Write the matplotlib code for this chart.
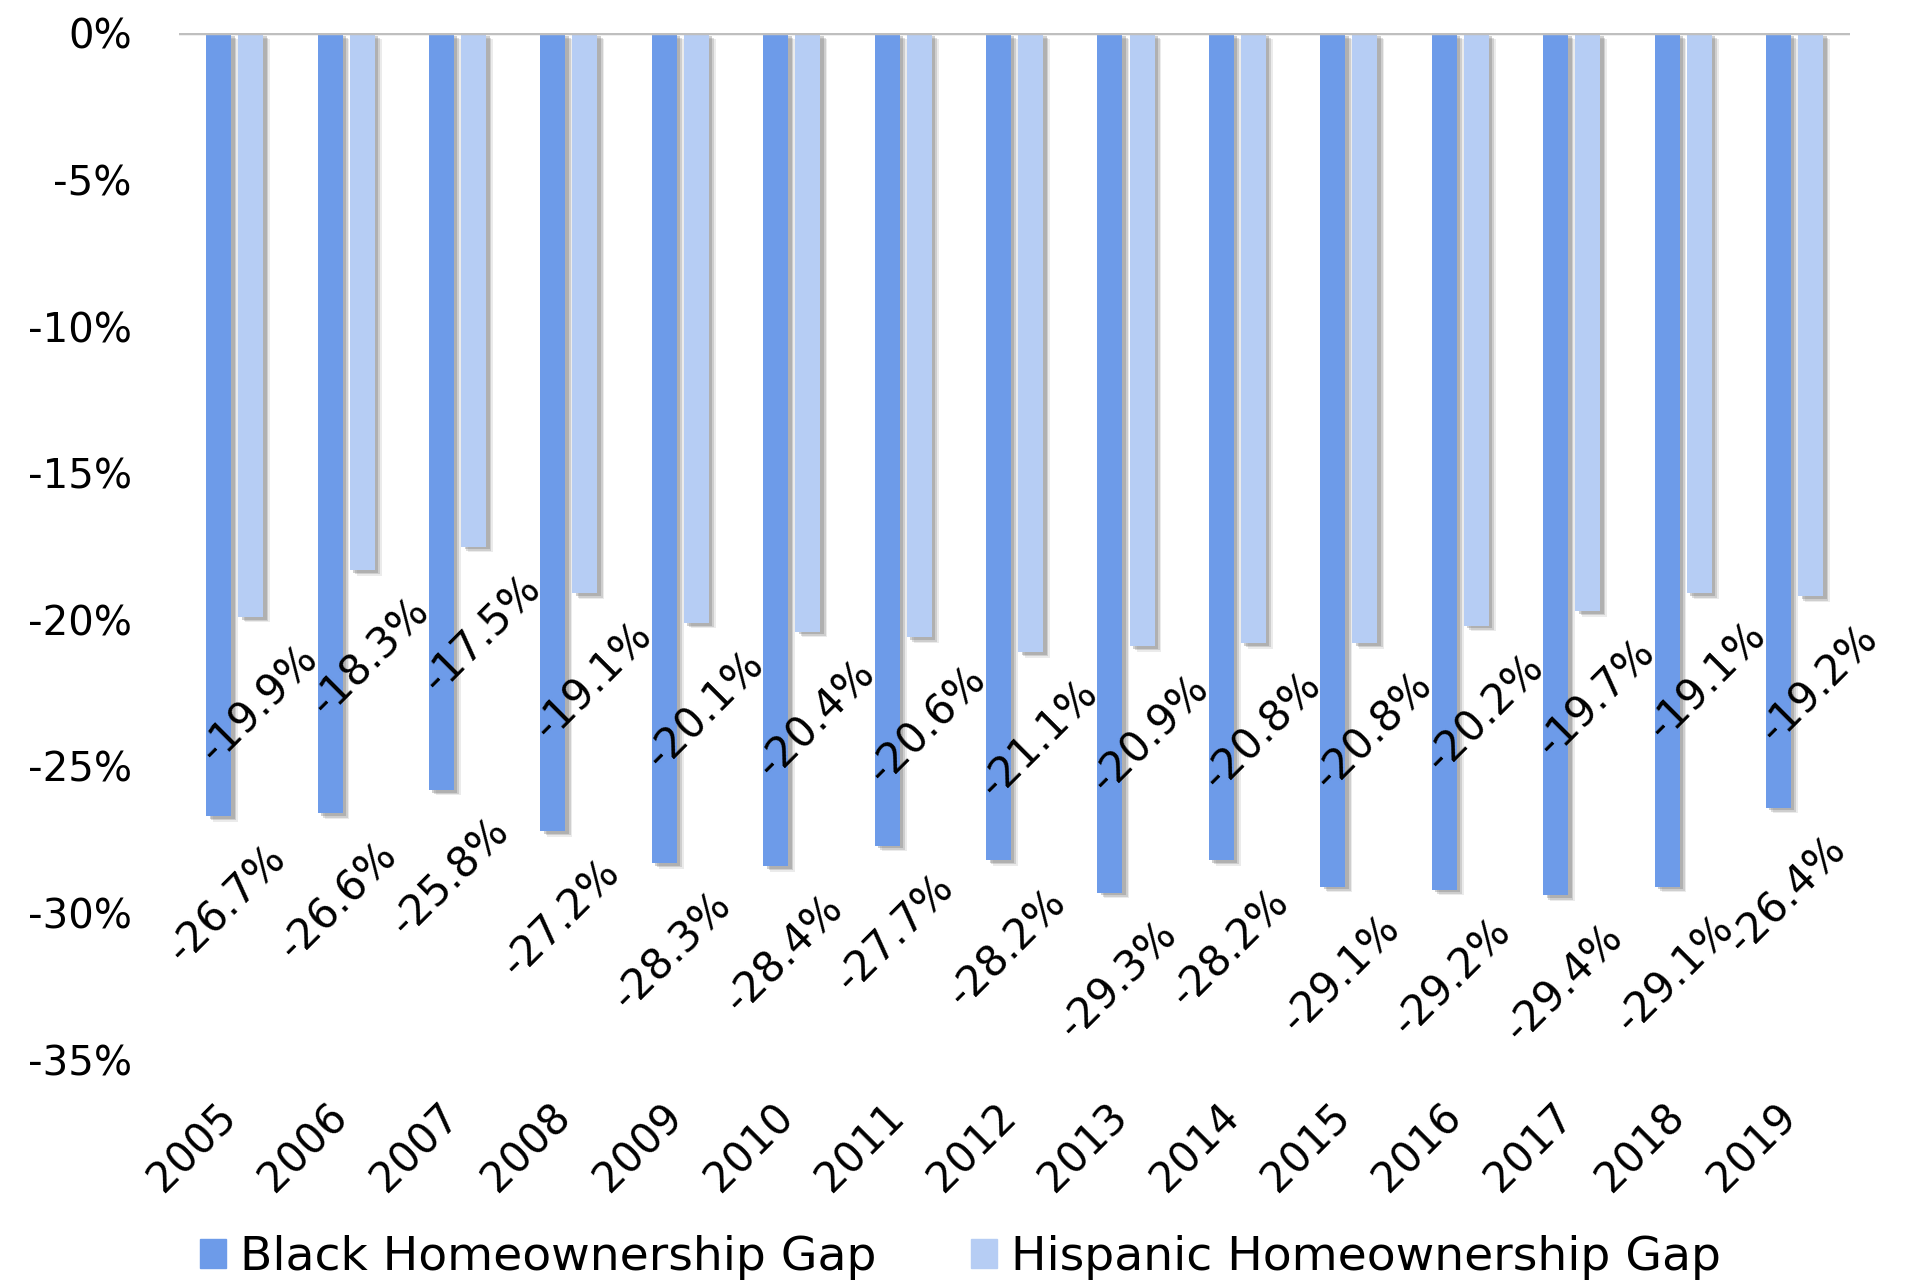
import numpy as np
import matplotlib.pyplot as plt
import matplotlib.patheffects as pe
import matplotlib.transforms as mtransforms
from matplotlib.patches import Patch
from matplotlib.ticker import FuncFormatter

years = ['2005', '2006', '2007', '2008', '2009', '2010', '2011', '2012',
         '2013', '2014', '2015', '2016', '2017', '2018', '2019']
black_gap = [-26.7, -26.6, -25.8, -27.2, -28.3, -28.4, -27.7, -28.2,
             -29.3, -28.2, -29.1, -29.2, -29.4, -29.1, -26.4]
hispanic_gap = [-19.9, -18.3, -17.5, -19.1, -20.1, -20.4, -20.6, -21.1,
                -20.9, -20.8, -20.8, -20.2, -19.7, -19.1, -19.2]

plt.rcParams['font.family'] = ['DejaVu Sans']

c_black = '#6D9BE9'
c_hisp = '#B6CDF4'

fig = plt.figure(figsize=(19.10, 12.86), dpi=100)
ax = fig.add_axes([0.0937, 0.176, 0.875, 0.798])

x = np.arange(len(years))
w = 0.224
off = 0.144

# soft grey drop shadow behind each bar
shadow = [pe.SimplePatchShadow(offset=(5, -4), shadow_rgbFace='#7a7a7a', alpha=0.15),
          pe.SimplePatchShadow(offset=(3.8, -3), shadow_rgbFace='#7a7a7a', alpha=0.25),
          pe.SimplePatchShadow(offset=(2.5, -2), shadow_rgbFace='#7a7a7a', alpha=0.35),
          pe.Normal()]

ax.bar(x - off, black_gap, w, color=c_black, path_effects=shadow, zorder=2)
ax.bar(x + off, hispanic_gap, w, color=c_hisp, path_effects=shadow, zorder=2)

# value labels, rotated below the end of each bar
for xi, v in zip(x, black_gap):
    ax.annotate(f'{v:.1f}%', (xi - off, v), xytext=(6, -63), textcoords='offset points',
                rotation=45, ha='center', va='center', fontsize=30, color='black')
for xi, v in zip(x, hispanic_gap):
    ax.annotate(f'{v:.1f}%', (xi + off, v), xytext=(6, -63), textcoords='offset points',
                rotation=45, ha='center', va='center', fontsize=30, color='black')

ax.axhline(0, color='#BFBFBF', lw=2.5, zorder=3)

ax.set_ylim(-35, 0)
ax.set_xlim(-0.5, len(years) - 0.5)
ax.set_yticks(np.arange(-35, 1, 5))
ax.yaxis.set_major_formatter(FuncFormatter(lambda v, p: f'{v:.0f}%'))
ax.set_xticks(x)
ax.set_xticklabels(years, rotation=45, ha='right', rotation_mode='default')
ax.tick_params(axis='y', length=0, pad=34, labelsize=29)
ax.tick_params(axis='x', length=0, pad=26, labelsize=30)
shift = mtransforms.ScaledTranslation(0.10, 0, fig.dpi_scale_trans)
for lab in ax.get_xticklabels():
    lab.set_transform(lab.get_transform() + shift)
for s in ax.spines.values():
    s.set_visible(False)

handles = [Patch(color=c_black, label='Black Homeownership Gap'),
           Patch(color=c_hisp, label='Hispanic Homeownership Gap')]
fig.legend(handles=handles, loc='center', bbox_to_anchor=(0.503, 0.022), ncol=2,
           frameon=False, fontsize=34, handlelength=0.55, handleheight=0.55,
           handletextpad=0.3, columnspacing=2.0)

fig.savefig('out.png', dpi=100)
